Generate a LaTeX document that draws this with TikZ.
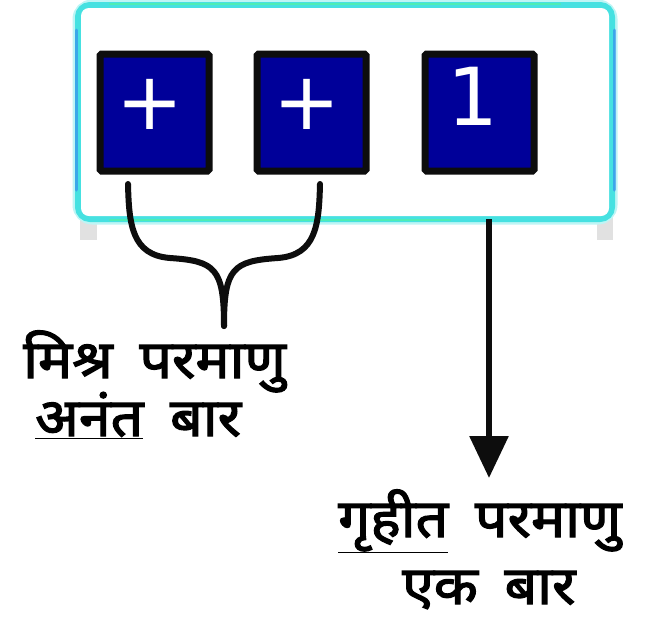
\documentclass[tikz,border=0pt]{standalone}
\usepackage{fontspec}
\newfontfamily\deva[Script=Devanagari,FakeBold=2.4,FakeStretch=1.08,WordSpace=1.8]{Noto Sans}
\newfontfamily\djv{DejaVu Sans}
\usetikzlibrary{arrows.meta}
\definecolor{boxblue}{RGB}{0,0,153}
\definecolor{glowA}{RGB}{70,225,225}
\definecolor{glowB}{RGB}{50,120,240}
\definecolor{glowC}{RGB}{80,240,170}
\definecolor{footgrey}{RGB}{225,225,225}
\tikzset{
  cell/.style={draw=black!95, line width=7pt, fill=boxblue, rounded corners=1.5pt,
    minimum width=109pt, minimum height=117pt, inner sep=0pt, anchor=north west},
  sym/.style={text=white, font=\djv\fontsize{80}{82}\selectfont, inner sep=0pt},
  lbl/.style={font=\deva\fontsize{53}{57}\selectfont, inner sep=0pt, anchor=base west},
  conn/.style={line width=6pt, black!95, line cap=round}
}
\begin{document}
\begin{tikzpicture}[x=1pt,y=-1pt]
\useasboundingbox (0,0) rectangle (658,622);
% feet
\fill[footgrey] (80,218) rectangle (97,240);
\fill[footgrey] (597,218) rectangle (613,240);
% glowing frame
\draw[glowA!35, line width=11pt, rounded corners=14pt] (78,5) rectangle (612,219);
\draw[glowA, line width=6pt, rounded corners=12pt] (78,5) rectangle (612,219);
\draw[glowB, line width=3pt, opacity=0.55, line cap=round] (76,30) -- (76,190);
\draw[glowB, line width=3pt, opacity=0.55, line cap=round] (614,30) -- (614,190);
\draw[glowC, line width=2.5pt, opacity=0.8, line cap=round] (110,4) -- (560,4);
\draw[glowC, line width=2.5pt, opacity=0.8, line cap=round] (110,220) -- (450,220);
\fill[white, rounded corners=8pt] (81,8) rectangle (609,216);
% cells
\node[cell] (c1) at (96.5,50.5) {};
\node[cell] (c2) at (253.5,50.5) {};
\node[cell] (c3) at (421.5,50.5) {};
\node[sym] (p1) at (150.5,104) {+};
\node[sym] (p2) at (307.5,104) {+};
\node[sym] (n1) at (473,96) {1};
% brace
\coordinate (bl) at (128,184);
\coordinate (br) at (320,184);
\coordinate (tip) at (224,326);
\draw[conn, line join=round] (bl) .. controls (129,225) and (132,255) .. (170,258)
  .. controls (215,261) and (224,268) .. (tip);
\draw[conn, line join=round] (br) .. controls (319,225) and (316,255) .. (278,258)
  .. controls (233,261) and (224,268) .. (tip);
% labels left
\node[lbl] (m1) at (23,378) {मिश्र परमाणु};
\node[lbl] (m2) at (35,436) {\underline{अनंत} बार};
% arrow
\coordinate (as) at (489,219);
\node[lbl] (g1) at (338,537) {\underline{गृहीत} परमाणु};
\node[lbl] (g2) at (402,604) {एक बार};
\coordinate (ae) at (489,478);
\draw[line width=6pt, black!95, -{Triangle[width=38pt,length=42pt]}] (as) -- (ae);
\end{tikzpicture}
\end{document}
